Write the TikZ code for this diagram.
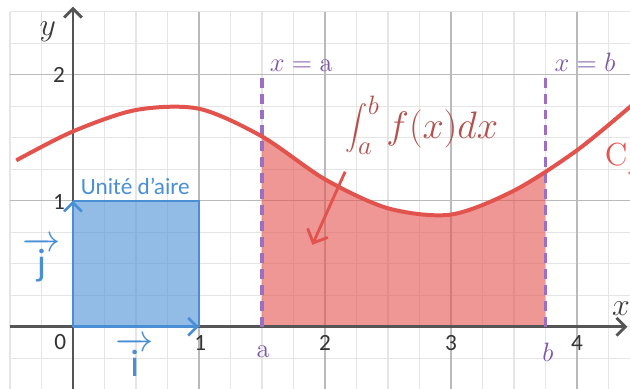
\documentclass[tikz,border=0pt]{standalone}
\usepackage{fontspec}
\setsansfont{Carlito}
\usetikzlibrary{arrows.meta}
\definecolor{curvered}{HTML}{E3534D}
\definecolor{intred}{HTML}{B5504D}
\definecolor{unitblue}{HTML}{4A8FD6}
\definecolor{boundpurple}{HTML}{9B6FC4}
\definecolor{labelpurple}{HTML}{7E57A8}
\definecolor{axisgray}{HTML}{555555}
\tikzset{>={Straight Barb[length=4pt,width=8pt]},line width=.8pt,
  every node/.style={font=\sffamily\fontsize{10.5}{12}\selectfont},
  minorgrid/.style={draw=black!10,line width=.5pt},
  majorgrid/.style={draw=black!27,line width=.6pt},
  axis/.style={->,draw=axisgray,line width=1.3pt},
  bound/.style={draw=boundpurple,dash pattern=on 4.5pt off 2.7pt,line width=1.4pt},
  curve/.style={draw=curvered,line width=1.8pt},
  unitvec/.style={->,draw=unitblue,line width=1.2pt},
  ticklabel/.style={text=black!80},
  veclabel/.style={text=unitblue,font=\sffamily\LARGE},
  boundlabel/.style={text=labelpurple,font=\large}}
\newcommand\fpoints{(-0.45,1.32)(0,1.55)(0.5,1.72)(1,1.73)(1.5,1.51)(2,1.17)(2.5,0.94)(3,0.89)(3.5,1.08)(4,1.40)(4.45,1.77)}

\begin{document}
\begin{tikzpicture}[x=2cm,y=2cm]
\fill[white](-0.579,-0.494)rectangle(4.421,2.593);
\useasboundingbox(-0.579,-0.494)rectangle(4.421,2.593);
% grid
\foreach \k in {-2,...,18}\draw[minorgrid](\k/4,-0.5)--(\k/4,2.5);
\foreach \k in {-2,...,10}\draw[minorgrid](-0.5,\k/4)--(4.5,\k/4);
\foreach \k in {1,...,4}\draw[majorgrid](\k,-0.5)--(\k,2.5);
\foreach \k in {1,2}\draw[majorgrid](-0.5,\k)--(4.5,\k);
% areas
\fill[unitblue,opacity=.6](0,0)rectangle(1,1);
\begin{scope}\clip(1.5,0)rectangle(3.75,3);
\fill[curvered,opacity=.6]plot[smooth]coordinates{\fpoints}--(4.45,0)--(-0.45,0)--cycle;
\end{scope}
\draw[axis](-0.5,0)--(4.40,0);\draw[axis](0,-0.5)--(0,2.54);
\draw[unitblue,line width=1pt](0,1)--(1,1)--(1,0);
\draw[unitvec](0,0)--(1,0);\draw[unitvec](0,0)--(0,1);
\draw[bound](1.5,0)--(1.5,2);\draw[bound](3.75,0)--(3.75,2);
\draw[curve]plot[smooth]coordinates{\fpoints};
% labels
\node[ticklabel](o)at(-0.1,-0.12){0};
\node[ticklabel](x1)at(1.01,-0.13){1};\node[ticklabel](x2)at(2,-0.13){2};
\node[ticklabel](x3)at(3,-0.13){3};\node[ticklabel](x4)at(4,-0.13){4};
\node[ticklabel](y1)at(-0.11,0.99){1};\node[ticklabel](y2)at(-0.11,2){2};
\node[text=axisgray!70!black,font=\Large](ylab)at(-0.2,2.34){$y$};
\node[text=axisgray!70!black,font=\Large](xlab)at(4.35,0.14){$x$};
\node[boundlabel](alab)at(1.51,-0.2){$\mathrm{a}$};
\node[boundlabel](blab)at(3.77,-0.2){$b$};
\node[boundlabel,anchor=west](xeqa)at(1.50,2.07){$x=\mathrm{a}$};
\node[boundlabel,anchor=west](xeqb)at(3.76,2.10){$x=b$};
\node[text=unitblue,anchor=west](unit)at(0.0,1.11){Unité d’aire};
\node[veclabel](ivec)at(0.49,-0.24){$\overrightarrow{\makebox[.75em]{\textsf{i}}}$};
\node[veclabel](jvec)at(-0.25,0.53){$\overrightarrow{\makebox[.75em]{\textsf{j}}}$};
\node[text=curvered,font=\Large,anchor=west](cf)at(4.16,1.33){$\mathrm{C}_f$};
\node[text=intred,font=\LARGE](integral)at(2.77,1.60){$\displaystyle\int_a^b f(x)dx$};
\coordinate(arrowstart)at(2.16,1.23);\coordinate(arrowend)at(1.90,0.65);
\draw[->,curvered,line width=1.3pt,>={Straight Barb[length=5pt,width=10pt]}](arrowstart)--(arrowend);
\end{tikzpicture}
\end{document}
